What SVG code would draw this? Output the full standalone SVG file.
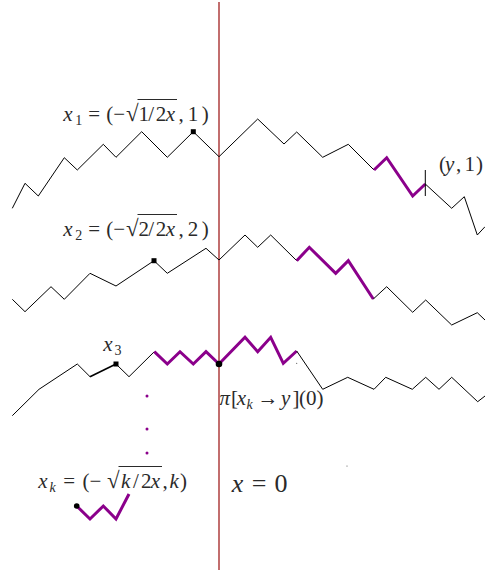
<svg xmlns="http://www.w3.org/2000/svg" width="485" height="572" viewBox="0 0 485 572">
<style>
.p{fill:none;stroke:#000;stroke-width:1;stroke-linejoin:miter}
.pp{fill:none;stroke:#8b008b;stroke-width:3;stroke-linejoin:miter}
.t{font-family:"Liberation Serif",serif;font-size:21px;fill:#2a2a2a}
.i{font-style:italic}
.s{font-size:14px}
.r{font-size:23px}
.ob{stroke:#2a2a2a;stroke-width:1}
</style>
<rect width="485" height="572" fill="#fff"/>
<g id="axis">
<line x1="219" y1="2" x2="219" y2="570" stroke="#b34a4a" stroke-width="1.6"/>
</g>
<g id="connectors">
<path class="p" d="M12.3,208.3 L25,183.3 L38.3,196 L64.3,157.7 L77.3,170 L103.3,144.3 L116,157.3 L141.7,131.7 L167.3,157.3 L193.3,131.7 L219,156.7 L257.7,119 L284,144 L296.7,132 L322.7,157.3 L348.3,144.3 L374,170"/>
<path class="pp" d="M374,170 L386.7,157.7 L412.7,196 L425.3,184"/>
<path class="p" d="M425.3,184 L451.7,208.3 L464.3,196.7 L477.3,235 L485,226.7"/>
<line class="p" x1="425.3" y1="170" x2="425.3" y2="196"/>
<path class="p" d="M12.3,299.3 L25,311.7 L51,286.7 L64.3,299.3 L90,273.3 L116,286 L154,260.7 L167.3,273.3 L206,248.3 L219,260 L245,235 L257.7,247.3 L270.7,235 L296.7,260.7"/>
<path class="pp" d="M296.7,260.7 L309.3,247.3 L335.7,273.3 L348.3,260.7 L373.3,299"/>
<path class="p" d="M373.3,299 L386.7,286.7 L412.7,312.3 L425.7,300 L451.7,325 L477.3,312.7 L485,320"/>
<path class="p" d="M12.3,415.7 L39,389.3 L77.3,364 L90,376.7"/>
<path class="p" style="stroke-width:1.6" d="M90,376.7 L116,364"/>
<path class="p" d="M116,364 L129,376.7 L154.3,351.7"/>
<path class="pp" d="M154.3,351.7 L167.3,364 L180,351.7 L193.3,364 L206,351.7 L219,364 L245,337.3 L257.7,351.7 L270.7,337.3 L283.3,363.3 L296.7,351"/>
<path class="p" d="M296.7,351 L322.7,389.3 L347.7,377.3 L374,389.3 L385.7,377.3 L412.3,389.3 L425.7,377.3 L439,389.3 L451.7,377.3 L477.7,401.7 L485,396"/>
<path class="pp" d="M76.7,506 L90,519 L103.3,506 L116,519 L129,494"/>
</g>
<g id="markers">
<rect x="190.8" y="129.2" width="5" height="5" fill="#000"/>
<rect x="151.5" y="258.2" width="5" height="5" fill="#000"/>
<rect x="113.5" y="361.5" width="5" height="5" fill="#000"/>
<circle cx="219" cy="364" r="3.3" fill="#000"/>
<circle cx="76.7" cy="506" r="2.8" fill="#000"/>
<circle cx="147" cy="396" r="1.5" fill="#8b008b"/>
<circle cx="147" cy="429" r="1.5" fill="#8b008b"/>
<circle cx="147" cy="453" r="1.5" fill="#8b008b"/>
<circle cx="296.7" cy="363.3" r="0.6" fill="#555"/>
<circle cx="347" cy="466" r="0.6" fill="#555"/>
</g>
<g id="label-x1">
<text class="t" y="121"><tspan class="i" x="63.3">x</tspan><tspan class="s" x="75.2" y="124.5">1</tspan><tspan x="88.3" y="121">=</tspan><tspan x="106.2">(</tspan><tspan x="113.3">−</tspan><tspan class="r" x="126">√</tspan><tspan x="138.5">1</tspan><tspan x="148.3">/</tspan><tspan x="155.8">2</tspan><tspan class="i" x="165.7">x</tspan><tspan x="178.5">,</tspan><tspan x="187.8">1</tspan><tspan x="201.7">)</tspan></text>
<line class="ob" x1="137.5" y1="99.5" x2="177" y2="99.5"/>
</g>
<g id="label-x2">
<text class="t" y="236"><tspan class="i" x="63.3">x</tspan><tspan class="s" x="75.2" y="239.5">2</tspan><tspan x="88.3" y="236">=</tspan><tspan x="106.2">(</tspan><tspan x="113.3">−</tspan><tspan class="r" x="126">√</tspan><tspan x="138.5">2</tspan><tspan x="148.3">/</tspan><tspan x="155.8">2</tspan><tspan class="i" x="165.7">x</tspan><tspan x="178.5">,</tspan><tspan x="187.8">2</tspan><tspan x="201.7">)</tspan></text>
<line class="ob" x1="137.5" y1="214.5" x2="177" y2="214.5"/>
</g>
<g id="label-x3">
<text class="t" y="351"><tspan class="i" x="103.3">x</tspan><tspan class="s" x="114.5" y="354.5">3</tspan></text>
</g>
<g id="label-y1">
<text class="t" y="171"><tspan x="439">(</tspan><tspan class="i" x="445">y</tspan><tspan x="456">,</tspan><tspan x="464.5">1</tspan><tspan x="476">)</tspan></text>
</g>
<g id="label-pi">
<text class="t" y="405"><tspan class="i" x="219.5">π</tspan><tspan x="231">[</tspan><tspan class="i" x="236.7">x</tspan><tspan class="s i" x="246.5" y="408.5">k</tspan><tspan x="257.5" y="405">→</tspan><tspan class="i" x="281">y</tspan><tspan x="292.5">]</tspan><tspan x="299">(0)</tspan></text>
</g>
<g id="label-xk">
<text class="t" y="488"><tspan class="i" x="38.3">x</tspan><tspan class="s i" x="49.5" y="491.5">k</tspan><tspan x="63.3" y="488">=</tspan><tspan x="82.5">(</tspan><tspan x="89.5">−</tspan><tspan class="r" x="107">√</tspan><tspan class="i" x="121">k</tspan><tspan x="133">/</tspan><tspan x="141">2</tspan><tspan class="i" x="150.7">x</tspan><tspan x="162.5">,</tspan><tspan class="i" x="169.5">k</tspan><tspan x="180">)</tspan></text>
<line class="ob" x1="118.5" y1="466.5" x2="162" y2="466.5"/>
</g>
<g id="label-x0">
<text class="t" style="font-size:26px" y="492"><tspan class="i" x="231.7">x</tspan><tspan x="251.7">=</tspan><tspan x="274.5">0</tspan></text>
</g>
</svg>
